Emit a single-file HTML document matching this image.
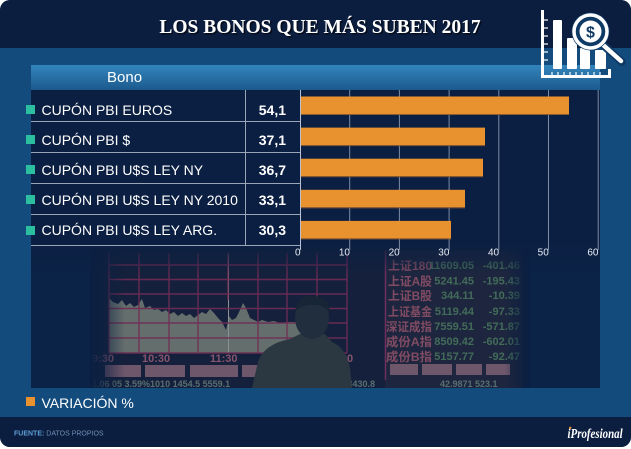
<!DOCTYPE html>
<html><head><meta charset="utf-8"><style>
html,body{margin:0;padding:0;background:#fff;}
svg{display:block;}
text{font-family:"Liberation Sans","Noto Sans CJK SC",sans-serif;}
</style></head><body>
<svg width="631" height="449" viewBox="0 0 631 449" xmlns="http://www.w3.org/2000/svg">
<defs>
<clipPath id="card"><rect x="0" y="0" width="631" height="447" rx="10"/></clipPath>
<linearGradient id="bono" x1="0" y1="0" x2="0" y2="1"><stop offset="0" stop-color="#3385bd"/><stop offset="1" stop-color="#1c5a8d"/></linearGradient>
<linearGradient id="fadeTop" x1="0" y1="0" x2="0" y2="1"><stop offset="0" stop-color="#0b1f42" stop-opacity="0.85"/><stop offset="1" stop-color="#0b1f42" stop-opacity="0"/></linearGradient>
<linearGradient id="fadeLeft" x1="0" y1="0" x2="1" y2="0"><stop offset="0" stop-color="#0b1f42" stop-opacity="1"/><stop offset="1" stop-color="#0b1f42" stop-opacity="0"/></linearGradient>
<linearGradient id="fadeRight" x1="0" y1="0" x2="1" y2="0"><stop offset="0" stop-color="#0b1f42" stop-opacity="0"/><stop offset="1" stop-color="#0b1f42" stop-opacity="1"/></linearGradient>
</defs>
<rect x="0" y="0" width="631" height="449" fill="#ffffff"/>
<g clip-path="url(#card)">
<rect x="0" y="0" width="631" height="449" fill="#134b7d"/>
<rect x="0" y="0" width="631" height="48" fill="#0c1e3f"/>
<rect x="0" y="417" width="631" height="32" fill="#0c1e3f"/>
</g>

<!-- title -->
<text x="321.5" y="34.5" text-anchor="middle" font-weight="bold" font-size="19.5" fill="#000" opacity="0.6" style="font-family:'Liberation Serif',serif">LOS BONOS QUE MÁS SUBEN 2017</text>
<text x="320" y="33" text-anchor="middle" font-weight="bold" font-size="19.5" fill="#ffffff" style="font-family:'Liberation Serif',serif">LOS BONOS QUE MÁS SUBEN 2017</text>

<!-- panel -->
<rect x="31" y="90" width="569" height="298" fill="#0b1f42"/>
<rect x="31" y="65" width="569" height="25" fill="url(#bono)"/>
<text x="107" y="82" font-size="15" fill="#ffffff">Bono</text>

<!-- photo -->
<g>
<rect x="95" y="248" width="430" height="140" fill="#1a1d31"/>
<polygon fill="#8e8e78" points="109,353 109,298 113,302 118,304 122,300 126,306 130,303 134,307 138,305 142,299 145,308 150,306 154,310 158,309 162,312 166,310 170,314 174,312 178,316 182,313 186,316 190,314 194,318 198,315 202,312 206,314 210,309 214,313 218,318 222,322 226,330 229,316 232,320 236,318 240,310 243,303 246,308 250,318 254,320 258,322 262,320 268,322 274,321 280,323 290,322 300,322 320,323 320,353"/>
<line x1="228.5" y1="253" x2="228.5" y2="353" stroke="#c9c2b3" stroke-width="1"/>
<g stroke="#a02c55" stroke-width="1.4" opacity="0.9">
<line x1="109" y1="253" x2="109" y2="353"/><line x1="139" y1="253" x2="139" y2="353"/><line x1="169" y1="253" x2="169" y2="353"/><line x1="198" y1="253" x2="198" y2="353"/><line x1="228" y1="253" x2="228" y2="300"/><line x1="258" y1="253" x2="258" y2="353"/><line x1="287" y1="253" x2="287" y2="353"/><line x1="317" y1="253" x2="317" y2="353"/><line x1="347" y1="253" x2="347" y2="353"/>
<line x1="109" y1="265" x2="347" y2="265"/><line x1="109" y1="279.5" x2="347" y2="279.5"/><line x1="109" y1="294" x2="347" y2="294"/><line x1="109" y1="308.5" x2="347" y2="308.5"/><line x1="109" y1="323" x2="347" y2="323"/><line x1="109" y1="338" x2="347" y2="338"/><line x1="109" y1="353" x2="347" y2="353"/>
</g>
<g font-size="11" font-weight="bold" fill="#c0687a">
<text x="92" y="362">9:30</text><text x="142" y="362">10:30</text><text x="210" y="362">11:30</text><text x="325" y="362">15:00</text>
</g>
<g fill="#9c6a76"><rect x="105" y="365" width="36" height="12"/><rect x="145" y="365" width="40" height="12"/><rect x="190" y="365" width="48" height="12"/><rect x="242" y="365" width="48" height="12"/></g>
<text x="92" y="387" font-size="9" font-weight="bold" fill="#7d9080">1.06 05 3.59%1010 1454.5 5559.1</text>
<text x="330" y="387" font-size="9" font-weight="bold" fill="#7d9080">552 3430.8</text>
<rect x="385" y="250" width="137" height="138" fill="#252434"/>
<line x1="385.5" y1="250" x2="385.5" y2="380" stroke="#a03060" stroke-width="1.5"/>
<g font-size="12" font-weight="bold" fill="#b85a6a">
<text x="388" y="270" textLength="44" lengthAdjust="spacingAndGlyphs">上证180</text>
<text x="388" y="285.5" textLength="44" lengthAdjust="spacingAndGlyphs">上证A股</text>
<text x="388" y="300" textLength="44" lengthAdjust="spacingAndGlyphs">上证B股</text>
<text x="388" y="316" textLength="44" lengthAdjust="spacingAndGlyphs">上证基金</text>
<text x="386" y="331" textLength="46" lengthAdjust="spacingAndGlyphs">深证成指</text>
<text x="386" y="346" textLength="46" lengthAdjust="spacingAndGlyphs">成份A指</text>
<text x="386" y="361" textLength="46" lengthAdjust="spacingAndGlyphs">成份B指</text>
</g>
<g font-size="11" font-weight="bold" fill="#5d8a5c" text-anchor="end">
<text x="474" y="269">11609.05</text><text x="474" y="284.5">5241.45</text><text x="474" y="299">344.11</text><text x="474" y="315">5119.44</text><text x="474" y="330">7559.51</text><text x="474" y="345">8509.42</text><text x="474" y="360">5157.77</text>
<text x="520" y="269">-401.46</text><text x="520" y="284.5">-195.43</text><text x="520" y="299">-10.39</text><text x="520" y="315">-97.33</text><text x="520" y="330">-571.87</text><text x="520" y="345">-602.01</text><text x="520" y="360">-92.47</text>
</g>
<g fill="#9c6a76"><rect x="390" y="364" width="28" height="11"/><rect x="422" y="364" width="30" height="11"/><rect x="456" y="364" width="26" height="11"/><rect x="486" y="364" width="24" height="11"/></g>
<text x="440" y="387" font-size="9" font-weight="bold" fill="#7d9080">42.9871 523.1</text>
<path d="M252 388 L258 362 Q264 344 290 339 L300 334 L325 334 L332 342 Q346 348 350 368 L352 388 Z" fill="#3a3f38"/>
<ellipse cx="312" cy="318" rx="17" ry="21" fill="#2b3034"/>
<path d="M295 312 Q297 296 312 296 Q328 296 330 312 Q322 304 312 305 Q300 305 295 312 Z" fill="#1e2228"/>
<!-- blue tint overlay -->
<rect x="31" y="245" width="569" height="143" fill="#0d2a55" opacity="0.32"/>
<rect x="31" y="245" width="569" height="30" fill="url(#fadeTop)"/>
<rect x="90" y="248" width="35" height="140" fill="url(#fadeLeft)"/>
<rect x="505" y="248" width="25" height="140" fill="url(#fadeRight)"/>
</g>

<!-- grid lines -->
<g stroke="#7d8ba4" stroke-width="1">
<line x1="349.7" y1="90" x2="349.7" y2="250"/><line x1="399.4" y1="90" x2="399.4" y2="250"/><line x1="449.1" y1="90" x2="449.1" y2="250"/><line x1="498.8" y1="90" x2="498.8" y2="250"/><line x1="548.5" y1="90" x2="548.5" y2="250"/><line x1="598.2" y1="90" x2="598.2" y2="250"/>
</g>
<line x1="300.5" y1="90" x2="300.5" y2="250" stroke="#b8c2d2" stroke-width="1"/>
<g stroke="#9aa5b8" stroke-width="1">
<line x1="31" y1="121.5" x2="300" y2="121.5"/><line x1="31" y1="152.5" x2="300" y2="152.5"/><line x1="31" y1="183.5" x2="300" y2="183.5"/><line x1="31" y1="214.5" x2="300" y2="214.5"/><line x1="31" y1="245.5" x2="300" y2="245.5"/>
<line x1="245.5" y1="90" x2="245.5" y2="245"/>
</g>
<g fill="#e8912f">
<rect x="301" y="96.5" width="268" height="17.5"/>
<rect x="301" y="127.6" width="184" height="17.5"/>
<rect x="301" y="158.7" width="182" height="17.5"/>
<rect x="301" y="189.8" width="164" height="17.5"/>
<rect x="301" y="220.9" width="150" height="17.5"/>
</g>
<g fill="#8a5a30">
<rect x="301" y="114" width="268" height="1"/><rect x="301" y="145.1" width="184" height="1"/><rect x="301" y="176.2" width="182" height="1"/><rect x="301" y="207.3" width="164" height="1"/><rect x="301" y="238.4" width="150" height="1"/>
</g>
<g fill="#2bbfa0">
<rect x="26" y="105" width="9" height="9"/><rect x="26" y="135" width="9" height="9"/><rect x="26" y="165" width="9" height="9"/><rect x="26" y="195" width="9" height="9"/><rect x="26" y="226" width="9" height="9"/>
</g>
<g font-size="14" fill="#ffffff">
<text x="41.5" y="115">CUPÓN PBI EUROS</text>
<text x="41.5" y="145">CUPÓN PBI $</text>
<text x="41.5" y="175">CUPÓN PBI U$S LEY NY</text>
<text x="41.5" y="205">CUPÓN PBI U$S LEY NY 2010</text>
<text x="41.5" y="235">CUPÓN PBI U$S LEY ARG.</text>
</g>
<g font-size="14" font-weight="bold" fill="#ffffff" text-anchor="end">
<text x="286" y="115">54,1</text><text x="286" y="145">37,1</text><text x="286" y="175">36,7</text><text x="286" y="205">33,1</text><text x="286" y="235">30,3</text>
</g>
<g font-size="10" fill="#e8ecf2" text-anchor="end">
<text x="300.5" y="255.5">0</text><text x="350" y="255.5">10</text><text x="399.7" y="255.5">20</text><text x="449.4" y="255.5">30</text><text x="499.1" y="255.5">40</text><text x="548.8" y="255.5">50</text><text x="598.5" y="255.5">60</text>
</g>

<!-- icon -->
<g fill="#ffffff" stroke="none">
<rect x="541" y="10" width="3" height="68"/>
<path d="M541 75 H608 V69 H611 V78 H541 Z"/>
<g stroke="#ffffff" stroke-width="1.2">
<line x1="544" y1="20" x2="548" y2="20"/><line x1="544" y1="28" x2="548" y2="28"/><line x1="544" y1="36" x2="548" y2="36"/><line x1="544" y1="44" x2="548" y2="44"/><line x1="544" y1="52" x2="548" y2="52"/><line x1="544" y1="60" x2="548" y2="60"/>
<line x1="552" y1="72" x2="552" y2="75"/><line x1="558" y1="72" x2="558" y2="75"/><line x1="564" y1="72" x2="564" y2="75"/><line x1="570" y1="72" x2="570" y2="75"/><line x1="576" y1="72" x2="576" y2="75"/><line x1="582" y1="72" x2="582" y2="75"/><line x1="588" y1="72" x2="588" y2="75"/><line x1="594" y1="72" x2="594" y2="75"/><line x1="600" y1="72" x2="600" y2="75"/>
</g>
<rect x="553" y="20" width="9" height="49" rx="1"/>
<rect x="567" y="38" width="10" height="31" rx="1"/>
<rect x="580" y="48" width="10" height="21" rx="1"/>
<rect x="595" y="50" width="11" height="19" rx="1"/>
</g>
<line x1="602" y1="44" x2="622" y2="62" stroke="#0f3a66" stroke-width="8" stroke-linecap="round"/>
<line x1="602" y1="44" x2="621" y2="61" stroke="#ffffff" stroke-width="4.5" stroke-linecap="round"/>
<circle cx="590.5" cy="31.5" r="19" fill="#0f3a66"/>
<circle cx="590.5" cy="31.5" r="16.5" fill="none" stroke="#ffffff" stroke-width="3.5"/>
<circle cx="590.5" cy="31.5" r="11" fill="#ffffff"/>
<text x="590.5" y="37.5" text-anchor="middle" font-size="16" font-weight="bold" fill="#0f3a66">$</text>

<rect x="26" y="397" width="9" height="9" fill="#e8912f"/>
<text x="41.5" y="408" font-size="14" fill="#ffffff">VARIACIÓN %</text>

<text x="14" y="435.5" font-size="7"><tspan font-weight="bold" fill="#5e9fd6">FUENTE:</tspan><tspan fill="#6f8fb5"> DATOS PROPIOS</tspan></text>
<text x="0" y="0" font-size="14" font-style="italic" font-weight="bold" fill="#ffffff" transform="translate(567.5 438) scale(0.78 1)" style="font-family:'Liberation Serif',serif">iProfesional</text>
<circle cx="570.2" cy="427.8" r="1.2" fill="#e8912f"/>
</svg>
</body></html>
